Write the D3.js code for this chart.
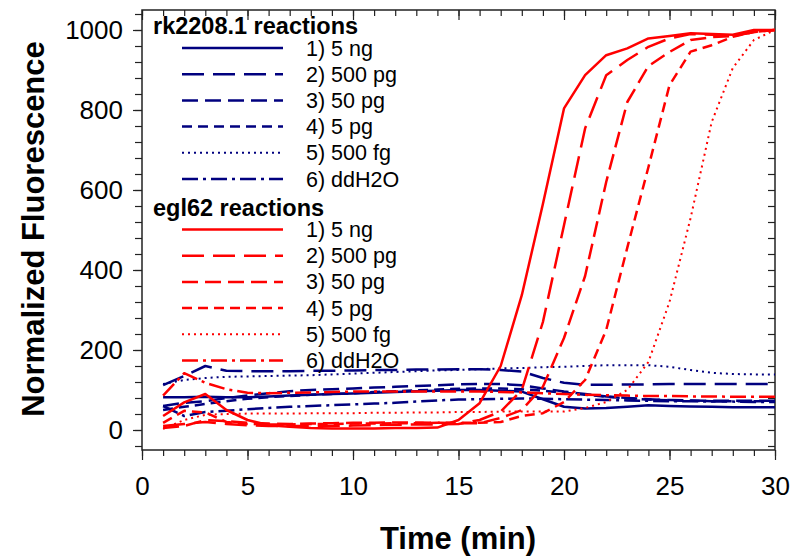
<!DOCTYPE html>
<html>
<head>
<meta charset="utf-8">
<script src="https://d3js.org/d3.v7.min.js"></script>
<style>
  body { margin: 0; background: #fff; }
  svg { display: block; font-family: "Liberation Sans", Arial, sans-serif; }
</style>
</head>
<body>
<svg id="chart" width="791" height="557"></svg>
<script>
// Time points (min)
const time = [1,2,3,4,5,6,7,8,9,10,11,12,13,14,15,16,17,18,19,20,21,22,23,24,25,26,27,28,29,30];

const sampleLabels = ["1) 5 ng", "2) 500 pg", "3) 50 pg", "4) 5 pg", "5) 500 fg", "6) ddH2O"];

// rk2208.1 reactions (blue)
const rk1 = [82,82,83,82,82,84,86,88,90,91,93,95,97,98,100,100,98,96,77,58,54,55,58,62,60,59,58,57,57,57];
const rk2 = [112,135,160,148,147,147,147,148,148,149,150,150,151,151,152,152,150,146,130,118,113,113,114,114,115,115,115,115,115,115];
const rk3 = [60,68,72,80,86,92,97,100,102,104,106,108,110,112,114,115,115,112,104,96,90,84,80,77,75,74,73,73,73,73];
const rk4 = [50,58,65,72,78,82,85,88,90,92,95,97,99,101,103,104,104,102,98,93,88,83,79,76,74,73,72,72,72,72];
const rk5 = [115,125,130,133,134,135,136,137,139,141,143,145,147,149,150,152,154,155,157,158,160,162,162,162,158,150,143,140,139,139];
const rk6 = [60,35,45,48,52,55,58,60,62,64,66,68,71,74,76,77,78,79,78,77,76,75,74,73,72,72,71,71,70,70];

// egl62 reactions (red)
const egl1 = [35,69,90,50,25,12,8,5,4,4,4,5,5,6,25,67,160,337,565,804,887,937,954,979,985,992,990,988,1000,1000];
const egl2 = [10,15,20,15,12,10,10,10,10,11,12,13,14,14,15,25,46,100,270,512,754,887,925,958,979,990,988,985,995,1000];
const egl3 = [5,10,25,22,18,16,15,16,17,18,18,19,19,18,17,17,30,50,108,230,385,620,820,910,945,975,982,985,995,1000];
const egl4 = [18,48,44,20,15,14,14,15,15,16,16,17,17,18,18,18,20,35,42,70,125,250,456,657,862,946,962,983,995,1000];
const egl5 = [3,25,38,40,41,41,41,42,42,42,43,43,44,44,45,45,46,46,46,46,55,70,100,170,320,530,770,905,975,1000];
const egl6 = [86,142,118,102,93,92,93,94,95,96,96,96,96,96,96,96,95,94,92,90,88,87,86,85,85,84,84,83,83,83];

const yMajor = [0,200,400,600,800,1000];
const xMajor = [0,5,10,15,20,25,30];

// line styles shared by both groups, in legend order
const dashes = [null, "22,9", "16,7", "10,6", "2,4", "16,5,3,5"];
const widths = [2.5, 2.5, 2.5, 2.5, 2, 2.5];

const svg = d3.select("#chart");
const plotLeft = 142, plotRight = 775, plotTop = 10, plotBottom = 450;

const x = d3.scaleLinear().domain([0, 30]).range([plotLeft, plotRight]);
const y = d3.scaleLinear().domain([-50, 1050]).range([plotBottom, plotTop]);

const xMinor = d3.range(0, 31, 1);
const yMinor = d3.range(-40, 1041, 40);

// clip for the curves
svg.append("clipPath").attr("id", "plot-clip")
  .append("rect")
  .attr("x", plotLeft).attr("y", plotTop)
  .attr("width", plotRight - plotLeft).attr("height", plotBottom - plotTop);

function tickStyle(g) {
  g.select(".domain").remove();
  g.selectAll("line").attr("stroke", "#222").attr("stroke-width", 1.2);
  g.selectAll("text").attr("fill", "#000").style("font-size", "26px");
}

// bottom axis (outside ticks)
svg.append("g").attr("transform", `translate(0,${plotBottom})`)
  .call(d3.axisBottom(x).tickValues(xMinor).tickSize(6).tickFormat(""))
  .call(tickStyle);
svg.append("g").attr("transform", `translate(0,${plotBottom})`)
  .call(d3.axisBottom(x).tickValues(xMajor).tickSize(10).tickPadding(17).tickFormat(d3.format("d")))
  .call(tickStyle);

// top mirror ticks (inside)
svg.append("g").attr("transform", `translate(0,${plotTop})`)
  .call(d3.axisTop(x).tickValues(xMinor).tickSize(-6).tickFormat(""))
  .call(tickStyle);
svg.append("g").attr("transform", `translate(0,${plotTop})`)
  .call(d3.axisTop(x).tickValues(xMajor).tickSize(-10).tickFormat(""))
  .call(tickStyle);

// left axis (outside ticks)
svg.append("g").attr("transform", `translate(${plotLeft},0)`)
  .call(d3.axisLeft(y).tickValues(yMinor).tickSize(7).tickFormat(""))
  .call(tickStyle);
svg.append("g").attr("transform", `translate(${plotLeft},0)`)
  .call(d3.axisLeft(y).tickValues(yMajor).tickSize(9).tickPadding(10).tickFormat(d3.format("d")))
  .call(tickStyle);

// right mirror ticks (inside)
svg.append("g").attr("transform", `translate(${plotRight},0)`)
  .call(d3.axisRight(y).tickValues(yMinor).tickSize(-7).tickFormat(""))
  .call(tickStyle);

// frame
svg.append("rect")
  .attr("x", plotLeft).attr("y", plotTop)
  .attr("width", plotRight - plotLeft).attr("height", plotBottom - plotTop)
  .attr("fill", "none").attr("stroke", "#222").attr("stroke-width", 1.5);

const line = d3.line()
  .x((d, i) => x(time[i]))
  .y(d => y(d));

const groups = [
  { title: "rk2208.1 reactions", color: "#00007f", series: [rk1, rk2, rk3, rk4, rk5, rk6], titleY: 34, rowY: 48 },
  { title: "egl62 reactions", color: "#ff0000", series: [egl1, egl2, egl3, egl4, egl5, egl6], titleY: 216, rowY: 229.5 }
];

const plot = svg.append("g").attr("clip-path", "url(#plot-clip)");

groups.forEach(grp => {
  grp.series.forEach((s, k) => {
    plot.append("path")
      .datum(s)
      .attr("d", line)
      .attr("fill", "none")
      .attr("stroke", grp.color)
      .attr("stroke-width", widths[k])
      .attr("stroke-dasharray", dashes[k])
      .attr("stroke-linejoin", "round");
  });
});

// legend
const rowGap = 26.2;
groups.forEach(grp => {
  const lg = svg.append("g");
  lg.append("text")
    .attr("x", 153).attr("y", grp.titleY)
    .style("font-size", "23.5px").style("font-weight", "bold")
    .text(grp.title);
  sampleLabels.forEach((lab, k) => {
    const ry = grp.rowY + k * rowGap;
    lg.append("line")
      .attr("x1", 182).attr("x2", 283)
      .attr("y1", ry).attr("y2", ry)
      .attr("stroke", grp.color)
      .attr("stroke-width", widths[k])
      .attr("stroke-dasharray", dashes[k]);
    lg.append("text")
      .attr("x", 306).attr("y", ry + 7.5)
      .style("font-size", "21.5px")
      .text(lab);
  });
});

// axis titles
svg.append("text")
  .attr("transform", "translate(44,229) rotate(-90)")
  .attr("text-anchor", "middle")
  .style("font-size", "31px").style("font-weight", "bold")
  .text("Normalized Fluorescence");

svg.append("text")
  .attr("x", 458).attr("y", 549)
  .attr("text-anchor", "middle")
  .style("font-size", "31px").style("font-weight", "bold")
  .text("Time (min)");
</script>
</body>
</html>
